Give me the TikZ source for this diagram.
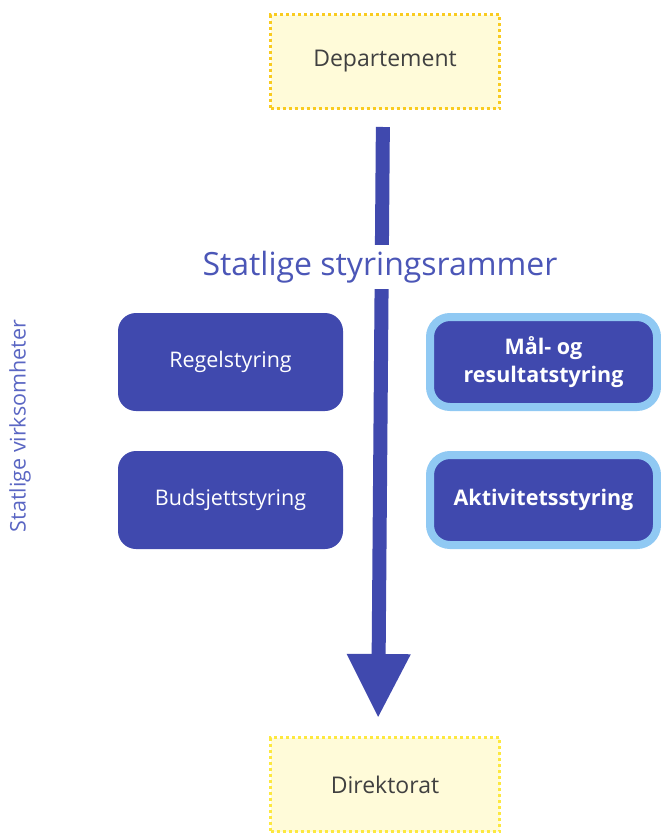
\documentclass[tikz,border=0pt]{standalone}
\usepackage{fontspec}
\setmainfont{Open Sans}
\usepackage{xcolor}
\definecolor{indigo}{HTML}{4049AE}
\definecolor{title}{HTML}{4B56B7}
\definecolor{side}{HTML}{5A66C3}
\definecolor{sky}{HTML}{90C9F3}
\definecolor{cream}{HTML}{FFFBD9}
\definecolor{gold}{HTML}{F9CB1F}
\definecolor{lemon}{HTML}{FDE83F}
\usetikzlibrary{arrows.meta}

\begin{document}
\begin{tikzpicture}[x=1pt, y=-1pt,
  levelbox/.style={fill=cream, line width=3pt, dash pattern=on 3pt off 3pt,
    minimum width=229pt, minimum height=94pt, text=black!75,
    font=\fontsize{23}{27}\selectfont},
  rulebox/.style={fill=indigo, rounded corners=18pt, minimum width=225pt,
    minimum height=98pt, text=white, font=\fontsize{21.5}{26}\selectfont},
  goalbox/.style={fill=indigo, draw=sky, line width=8pt, rounded corners=20pt,
    minimum width=227pt, minimum height=90pt, text=white, align=center,
    font=\bfseries\fontsize{21.5}{28}\selectfont}]
  \useasboundingbox (0,0) rectangle (661,835);

  % Levels above and below
  \node[levelbox, draw=gold] (dep) at (385,61.5) {Departement};
  \node[levelbox, draw=lemon] (dir) at (385,784.5) {Direktorat};

  % Steering arrow from top to bottom
  \draw[indigo, line width=14pt, -{Triangle[width=60pt, length=64pt]},
    shorten <=17pt, shorten >=18pt]
    ([xshift=-2pt]dep.south) -- ([xshift=-7pt]dir.north);

  % Title over the arrow
  \node[fill=white, inner sep=0pt, minimum height=44pt, text=title,
    font=\fontsize{32}{36}\selectfont] (frame) at (380,267) {Statlige styringsrammer};

  % Steering forms
  \node[rulebox] (regel) at (230.5,362) {Regelstyring};
  \node[rulebox] (budsjett) at (230.5,500) {Budsjettstyring};
  \node[goalbox] (maal) at (543.5,362) {Mål- og\\resultatstyring};
  \node[goalbox] (aktivitet) at (543.5,500) {Aktivitetsstyring};

  % Side label
  \node[rotate=90, text=side, font=\fontsize{21.5}{26}\selectfont] (virk) at (20,426) {Statlige virksomheter};
\end{tikzpicture}
\end{document}
